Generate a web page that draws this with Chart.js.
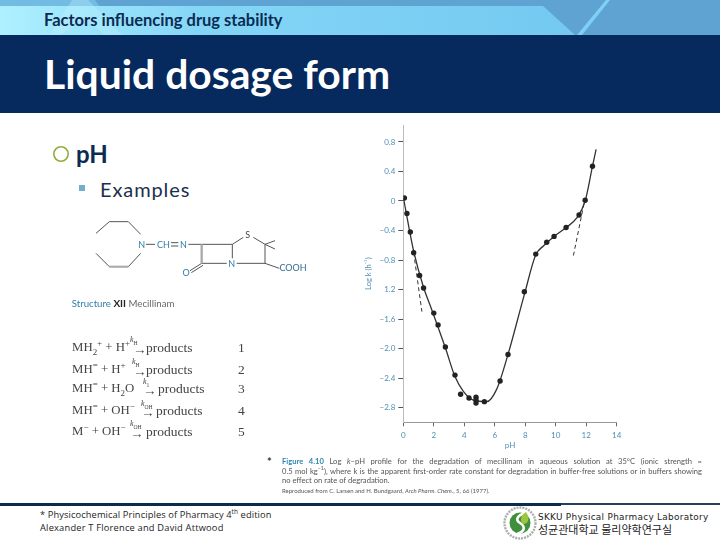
<!DOCTYPE html>
<html><head><meta charset="utf-8">
<script src="https://cdn.jsdelivr.net/npm/chart.js@4"></script>
<style>
html,body{margin:0;padding:0;background:#fff;overflow:hidden}
#slide{position:relative;width:720px;height:540px;overflow:hidden;font-family:Lato,sans-serif}
.t{position:absolute;white-space:nowrap;line-height:1}
.ab{position:absolute}
.eq{font-family:"Liberation Serif",serif;font-size:13.5px;color:#444;filter:blur(.25px)}
.lhs{font-size:12.8px}
.cap{font-size:7.6px;color:#555;font-family:Lato,sans-serif;filter:blur(.25px)}
.just{width:420px;text-align:justify;text-align-last:justify;white-space:normal}
sub,sup{font-size:70%;line-height:0}
.foot{font-family:"Open Sans",sans-serif;font-size:9.3px;color:#222;letter-spacing:.2px}
#chartBox{position:absolute;left:360px;top:110px;width:270px;height:340px;filter:blur(.3px)}
</style></head><body>
<div id="slide">
 <svg class="ab" style="left:0;top:0" width="720" height="113">
  <defs><linearGradient id="g" x1="0" x2="1" y1="0" y2="0"><stop offset="0" stop-color="#aef0ff"/><stop offset=".35" stop-color="#84d6f6"/><stop offset="1" stop-color="#74c9f1"/></linearGradient></defs>
  <rect width="720" height="35" fill="#5fa3d2"/>
  <polygon points="0,0 95,0 120,35 0,35" fill="#72bce4"/>
  <polygon points="0,6 543,6 575,35 0,35" fill="url(#g)"/>
  <polygon points="72,0 88,0 122,35 104,35 86,18 60,35 50,35" fill="#c4f2ff" opacity=".35"/>
  <polygon points="606,0 610,0 582,35 577,35" fill="#7fd0f5"/>
  <rect y="35" width="720" height="78" fill="#062a5e"/>
 </svg>
 <div class="t" style="left:44px;top:12px;font-size:16.5px;font-weight:700;color:#0b2b52">Factors influencing drug stability</div>
 <div class="t" style="left:44px;top:54px;font-size:40.8px;font-weight:700;color:#fff">Liquid dosage form</div>

 <svg class="ab" style="left:50px;top:143px" width="24" height="24"><circle cx="11" cy="11" r="7.2" fill="none" stroke="#93ab3c" stroke-width="1.6"/></svg>
 <div class="t" style="left:76px;top:142px;font-size:24px;font-weight:700;color:#0b2b52">pH</div>
 <div class="ab" style="left:79px;top:185px;width:6px;height:6px;background:#70b0c8"></div>
 <div class="t" style="left:100px;top:179px;font-size:20px;color:#1c2f4a;letter-spacing:.9px">Examples</div>

 <svg class="ab" style="left:60px;top:200px;filter:blur(.3px)" width="260" height="250" viewBox="0 0 780 750">
  <g fill="none" stroke="#555" stroke-width="3">
   <polyline points="108,100 148,65 205,65 242,103"/>
   <polyline points="108,160 148,200 205,200 242,160"/>
   <path d="M258 133H285M333 128H355M333 138H355M385 133H517V175M425 190H500M530 190H615V133L580 112M517 133L550 112M615 133L645 122M615 133L645 147M615 190L658 205M425 190L390 212M429 196L394 218"/>
   <path d="M425 133V190" stroke="#aaa" stroke-width="7"/>
   <path d="M148 200H205" stroke="#aaa" stroke-width="6"/>
  </g>
  <g font-family="Lato,sans-serif" font-size="27" fill="#2f7ea8" text-anchor="middle">
   <text x="245" y="143">N</text><text x="310" y="143">CH</text><text x="370" y="143">N</text>
   <text x="563" y="114" fill="#444">S</text><text x="515" y="201">N</text><text x="378" y="227">O</text>
   <text x="699" y="214" fill="#2f6f90">COOH</text>
  </g>
  <text x="35" y="322" font-family="Lato,sans-serif" font-size="29" fill="#666"><tspan fill="#2f7ea8">Structure</tspan> <tspan font-weight="700" fill="#222" font-size="30">XII</tspan> Mecillinam</text>
 </svg>

 <div class="t eq lhs" style="left:72px;top:341px">MH<sub>2</sub><sup>+</sup> + H<sup>+</sup></div>
 <div class="t eq lhs" style="left:72px;top:363px">MH<sup>=</sup> + H<sup>+</sup></div>
 <div class="t eq lhs" style="left:72px;top:382px">MH<sup>=</sup> + H<sub>2</sub>O</div>
 <div class="t eq lhs" style="left:72px;top:404px">MH<sup>=</sup> + OH<sup>−</sup></div>
 <div class="t eq lhs" style="left:72px;top:425px">M<sup>−</sup> + OH<sup>−</sup></div>
 <div class="t eq" style="left:133px;top:343px">→</div><div class="t eq" style="left:133px;top:365px">→</div><div class="t eq" style="left:143px;top:384px">→</div><div class="t eq" style="left:141px;top:406px">→</div><div class="t eq" style="left:130px;top:427px">→</div>
 <div class="t eq" style="left:130px;top:336px;font-size:8px"><i>k</i><sub>H</sub></div>
 <div class="t eq" style="left:132px;top:358px;font-size:8px"><i>k</i><sub>H</sub></div>
 <div class="t eq" style="left:143px;top:378px;font-size:8px"><i>k</i><sub>1</sub></div>
 <div class="t eq" style="left:141px;top:400px;font-size:8px"><i>k</i><sub>OH</sub></div>
 <div class="t eq" style="left:130px;top:420px;font-size:8px"><i>k</i><sub>OH</sub></div>
 <div class="t eq" style="left:146px;top:341px">products</div><div class="t eq" style="left:146px;top:363px">products</div><div class="t eq" style="left:158px;top:382px">products</div><div class="t eq" style="left:156px;top:404px">products</div><div class="t eq" style="left:146px;top:425px">products</div>
 <div class="t eq" style="left:238px;top:341px">1</div><div class="t eq" style="left:238px;top:363px">2</div><div class="t eq" style="left:238px;top:382px">3</div><div class="t eq" style="left:238px;top:404px">4</div><div class="t eq" style="left:238px;top:425px">5</div>

 <div id="chartBox"><canvas id="c" width="270" height="340"></canvas></div>

 <div class="t" style="left:267px;top:456px;font-size:11px;font-weight:700;color:#333">*</div>
 <div class="ab cap just" style="left:282px;top:457px;height:9px;line-height:9px"><b style="color:#2f86b0">Figure 4.10</b> Log <i>k</i>–pH profile for the degradation of mecillinam in aqueous solution at 35°C (ionic strength = </div>
 <div class="ab cap just" style="left:282px;top:467px;height:9px;line-height:9px">0.5 mol kg<sup>−1</sup>), where k is the apparent first-order rate constant for degradation in buffer-free solutions or in buffers showing</div>
 <div class="t cap" style="left:282px;top:477px">no effect on rate of degradation.</div>
 <div class="t cap" style="left:282px;top:488px;font-size:6px">Reproduced from C. Larsen and H. Bundgaard, <i>Arch Pharm. Chem.</i>, 5, 66 (1977).</div>

 <div class="ab" style="left:0;top:502.5px;width:561px;height:3px;background:#0f2b4c"></div>
 <div class="ab" style="left:561px;top:503px;width:159px;height:2px;background:#23405f"></div>

 <div class="t foot" style="left:40px;top:510px;letter-spacing:.1px">* Physicochemical Principles of Pharmacy 4<sup>th</sup> edition</div>
 <div class="t foot" style="left:40px;top:523px">Alexander T Florence and David Attwood</div>

 <svg class="ab" style="left:502px;top:505px" width="36" height="36">
  <circle cx="18" cy="18" r="15.5" fill="#fff" stroke="#aab0ac" stroke-width="2.4" stroke-dasharray="2 1"/>
  <circle cx="18" cy="18" r="10.5" fill="#3f8f3c"/>
  <path d="M24 8C15 10 13 15 18 18S24 26 15 29" fill="none" stroke="#fff" stroke-width="2.6"/>
  <path d="M24 7C28 13 27 19 21 19C17 15 19 10 24 7Z" fill="#9cc63d"/>
 </svg>
 <div class="t" style="left:538px;top:513px;font-size:8.9px;font-family:'DejaVu Sans',sans-serif;color:#222;letter-spacing:.3px;font-weight:400">SKKU Physical Pharmacy Laboratory</div>
 <div class="t" style="left:538px;top:524px;font-size:11px;font-family:'Noto Sans CJK KR',sans-serif;color:#222">성균관대학교 물리약학연구실</div>
</div>
<script>
// Measured data points (pH, log k)
const pointPH   = [0.07,0.24,0.46,0.68,1.07,1.33,2.0,2.28,2.76,3.39,3.76,4.31,4.77,4.77,4.77,5.32,6.35,6.87,7.94,8.69,9.41,9.89,10.68,11.53,11.93,12.41];
const pointLogK = [0.04,-0.17,-0.42,-0.70,-1.01,-1.18,-1.52,-1.68,-1.98,-2.36,-2.62,-2.67,-2.66,-2.70,-2.74,-2.72,-2.44,-2.08,-1.23,-0.72,-0.56,-0.48,-0.36,-0.19,0.01,0.47];
// Fitted curve
const curvePH   = [0.02,0.68,1.31,1.86,2.76,3.39,3.94,4.6,5.47,6.13,6.87,7.94,8.69,9.19,9.89,10.68,11.38,11.93,12.41,12.65];
const curveLogK = [0.03,-0.68,-1.16,-1.47,-1.99,-2.38,-2.58,-2.70,-2.72,-2.55,-2.08,-1.27,-0.73,-0.61,-0.48,-0.36,-0.23,0,0.47,0.70];
// Limiting slopes
const dashAPH = [0.68,1.22], dashALogK = [-0.70,-1.50];
const dashBPH = [11.16,11.86], dashBLogK = [-0.74,-0.03];
// Axis ticks
const xTicks = [0,2,4,6,8,10,12,14];
const yTicks = [0.8,0.4,0,-0.4,-0.8,-1.2,-1.6,-2.0,-2.4,-2.8];
const yTickLabels = ['0.8','0.4','0','−0.4','−0.8','1.2','−1.6','−2.0','−2.4','−2.8'];

const zip=(a,b)=>a.map((x,i)=>({x,y:b[i]}));
const blue='#4f8fb5';
new Chart(document.getElementById('c'),{
 type:'scatter',
 data:{datasets:[
  {data:zip(pointPH,pointLogK),pointRadius:2.7,pointBackgroundColor:'#222',pointBorderWidth:0,showLine:false,order:1},
  {data:zip(curvePH,curveLogK),showLine:true,borderColor:'#333',borderWidth:1.3,pointRadius:0,cubicInterpolationMode:'monotone',order:2},
  {data:zip(dashAPH,dashALogK),showLine:true,borderColor:'#333',borderWidth:1,borderDash:[4,3],pointRadius:0,order:3},
  {data:zip(dashBPH,dashBLogK),showLine:true,borderColor:'#333',borderWidth:1,borderDash:[4,3],pointRadius:0,order:3}
 ]},
 options:{
  responsive:false,animation:false,
  layout:{padding:{left:0,right:13.3,top:15,bottom:0}},
  plugins:{legend:{display:false},tooltip:{enabled:false}},
  scales:{
   x:{type:'linear',min:0,max:14,
    afterBuildTicks:s=>{s.ticks=xTicks.map(v=>({value:v}))},
    afterFit:s=>{s.height=27.7},
    grid:{drawOnChartArea:false,tickLength:4,tickColor:'#666',color:'#999'},
    border:{color:'#999'},
    ticks:{color:blue,font:{family:'Lato',size:8},padding:4,maxRotation:0,autoSkip:false},
    title:{display:true,text:'pH',color:blue,font:{family:'Lato',size:8},padding:{top:1,bottom:0}}},
   y:{type:'linear',min:-3.0,max:1.03,
    afterBuildTicks:s=>{s.ticks=yTicks.map(v=>({value:v}))},
    afterFit:s=>{s.width=43.3},
    grid:{drawOnChartArea:false,tickLength:5,tickColor:'#555',color:'#bbb'},
    border:{color:'#bbb'},
    ticks:{color:blue,font:{family:'Lato',size:8},padding:3,autoSkip:false,callback:v=>{const i=yTicks.indexOf(v);return i>=0?yTickLabels[i]:''}},
    title:{display:true,text:'Log k (h⁻¹)',color:blue,font:{family:'Lato',size:7.5},padding:{top:4,bottom:0}}}
  }
 }
});
</script>
</body></html>
